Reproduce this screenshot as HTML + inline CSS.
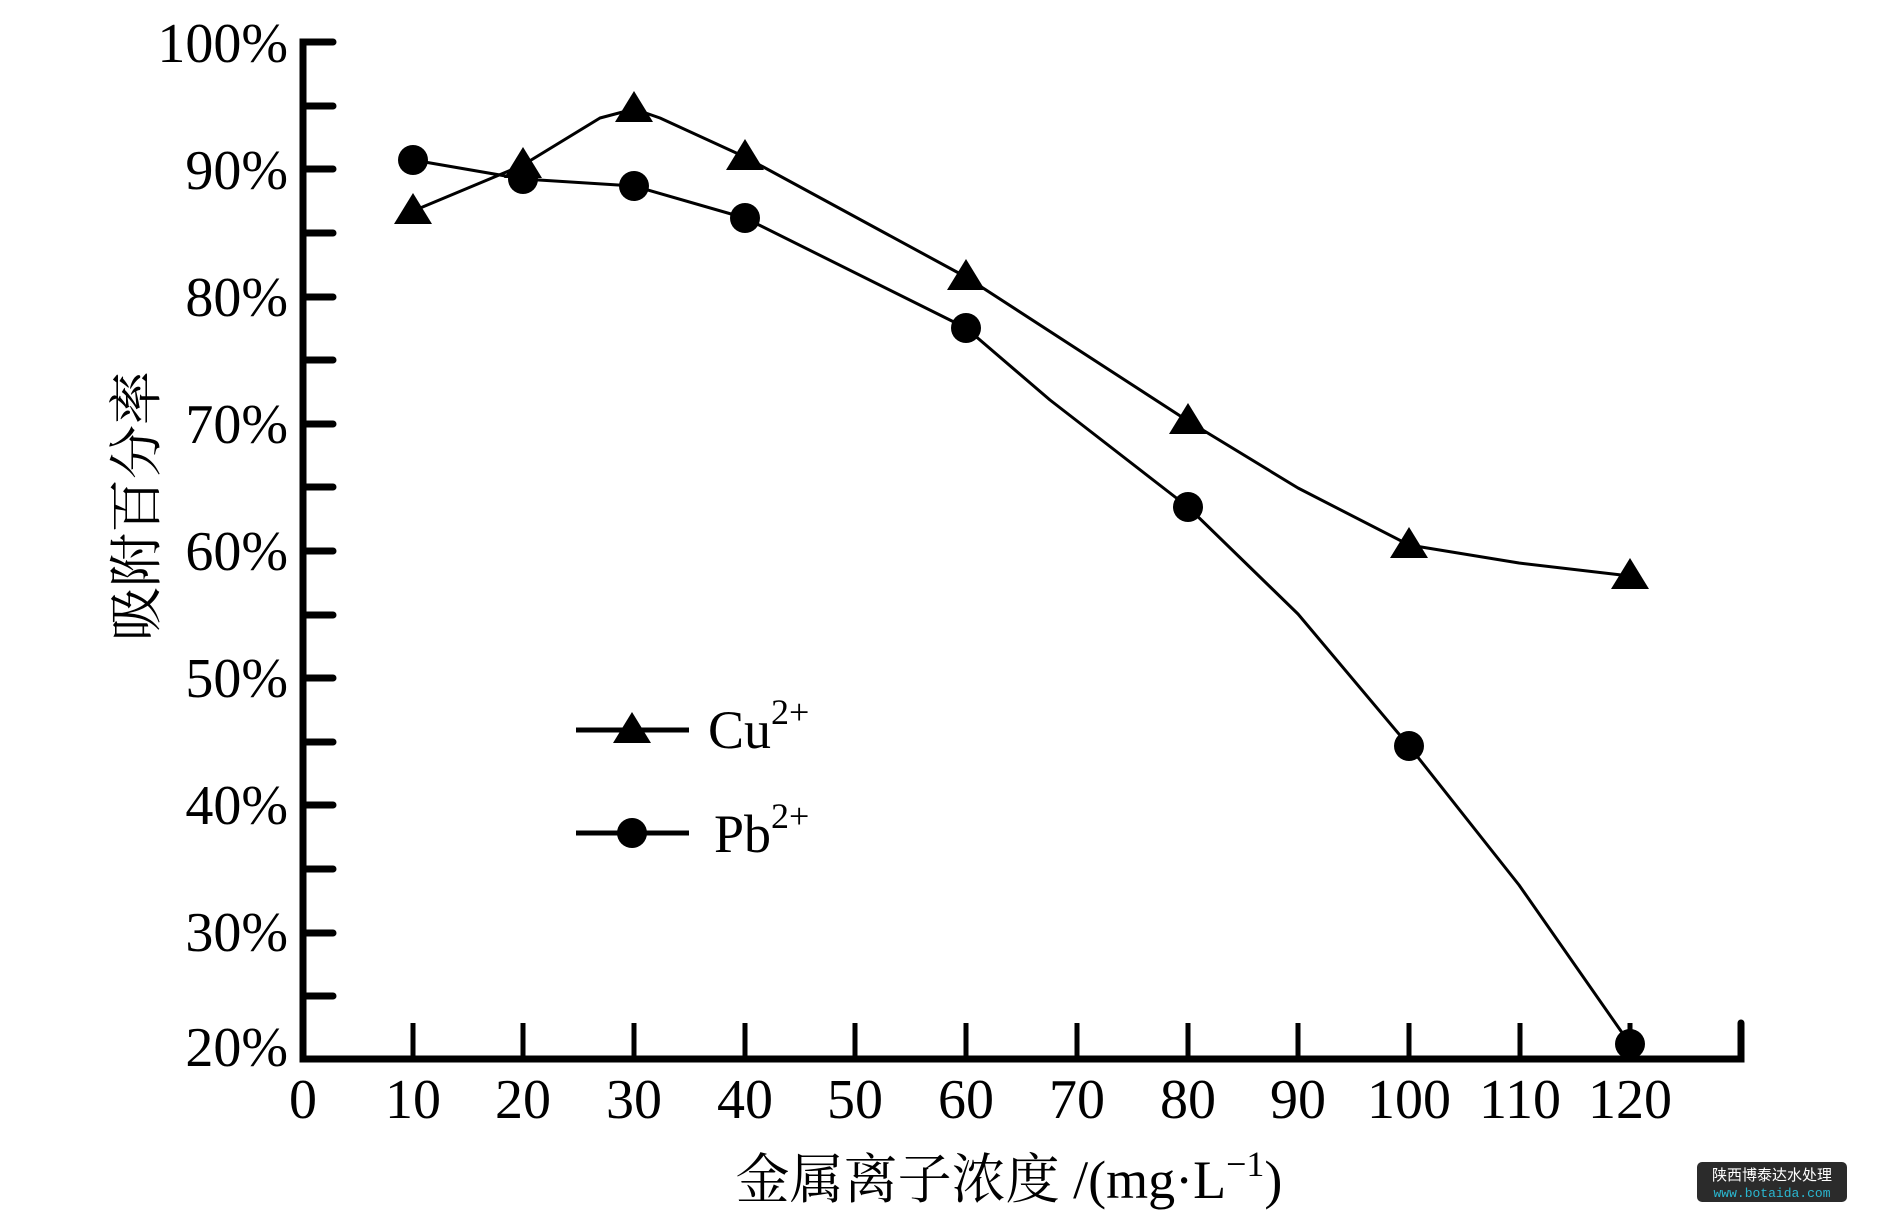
<!DOCTYPE html>
<html><head><meta charset="utf-8"><style>
html,body{margin:0;padding:0;background:#fff;}
svg{display:block;}
</style></head><body>
<svg width="1887" height="1227" viewBox="0 0 1887 1227" xmlns="http://www.w3.org/2000/svg">
<rect width="1887" height="1227" fill="#fff"/>
<g stroke="#000" stroke-width="7" fill="none" stroke-linecap="round">
<polyline points="333,42 303,42 303,1059 1741,1059 1741,1023"/>
<line x1="303" y1="106" x2="333" y2="106"/>
<line x1="303" y1="169" x2="333" y2="169"/>
<line x1="303" y1="233" x2="333" y2="233"/>
<line x1="303" y1="297" x2="333" y2="297"/>
<line x1="303" y1="360" x2="333" y2="360"/>
<line x1="303" y1="424" x2="333" y2="424"/>
<line x1="303" y1="487" x2="333" y2="487"/>
<line x1="303" y1="551" x2="333" y2="551"/>
<line x1="303" y1="615" x2="333" y2="615"/>
<line x1="303" y1="678" x2="333" y2="678"/>
<line x1="303" y1="742" x2="333" y2="742"/>
<line x1="303" y1="805" x2="333" y2="805"/>
<line x1="303" y1="869" x2="333" y2="869"/>
<line x1="303" y1="933" x2="333" y2="933"/>
<line x1="303" y1="996" x2="333" y2="996"/>
</g>
<g stroke="#000" stroke-width="5" fill="none">
<line x1="413" y1="1059" x2="413" y2="1023"/>
<line x1="523" y1="1059" x2="523" y2="1023"/>
<line x1="634" y1="1059" x2="634" y2="1023"/>
<line x1="745" y1="1059" x2="745" y2="1023"/>
<line x1="855" y1="1059" x2="855" y2="1023"/>
<line x1="966" y1="1059" x2="966" y2="1023"/>
<line x1="1077" y1="1059" x2="1077" y2="1023"/>
<line x1="1188" y1="1059" x2="1188" y2="1023"/>
<line x1="1298" y1="1059" x2="1298" y2="1023"/>
<line x1="1409" y1="1059" x2="1409" y2="1023"/>
<line x1="1520" y1="1059" x2="1520" y2="1023"/>
<line x1="1630" y1="1059" x2="1630" y2="1023"/>
</g>
<g font-family="Liberation Serif, serif" font-size="56" fill="#000" text-anchor="end">
<text x="288" y="62">100%</text>
<text x="288" y="189">90%</text>
<text x="288" y="316">80%</text>
<text x="288" y="443">70%</text>
<text x="288" y="570">60%</text>
<text x="288" y="697">50%</text>
<text x="288" y="824">40%</text>
<text x="288" y="951">30%</text>
<text x="288" y="1066">20%</text>
</g>
<g font-family="Liberation Serif, serif" font-size="56" fill="#000" text-anchor="middle">
<text x="303" y="1118">0</text>
<text x="413" y="1118">10</text>
<text x="523" y="1118">20</text>
<text x="634" y="1118">30</text>
<text x="745" y="1118">40</text>
<text x="855" y="1118">50</text>
<text x="966" y="1118">60</text>
<text x="1077" y="1118">70</text>
<text x="1188" y="1118">80</text>
<text x="1298" y="1118">90</text>
<text x="1409" y="1118">100</text>
<text x="1520" y="1118">110</text>
<text x="1630" y="1118">120</text>
</g>
<text x="1009" y="1198" font-family="Liberation Serif, 'Noto Serif CJK SC', serif" font-size="54" text-anchor="middle">金属离子浓度 /(mg·L<tspan font-size="36" dy="-22">−1</tspan><tspan dy="22">)</tspan></text>
<text transform="translate(155,506) rotate(-90)" font-family="'Noto Serif CJK SC', serif" font-size="54" text-anchor="middle">吸附百分率</text>
<g stroke="#000" stroke-width="3" fill="none" stroke-linejoin="round">
<polyline points="413,211 523,165 600,118 634,109 660,118 745,157 966,277 1188,421 1298,488 1409,545 1519,563 1630,576"/>
<polyline points="413,160 523,179 634,186 745,218 966,328 1050,400 1188,507 1298,614 1409,746 1519,885 1630,1044"/>
</g>
<g fill="#000">
<path d="M413,193 L432,224 L394,224 Z"/>
<path d="M523,147 L542,178 L504,178 Z"/>
<path d="M634,91 L653,122 L615,122 Z"/>
<path d="M745,139 L764,170 L726,170 Z"/>
<path d="M966,259 L985,290 L947,290 Z"/>
<path d="M1188,403 L1207,434 L1169,434 Z"/>
<path d="M1409,527 L1428,558 L1390,558 Z"/>
<path d="M1630,558 L1649,589 L1611,589 Z"/>
<circle cx="413" cy="160" r="15"/>
<circle cx="523" cy="179" r="15"/>
<circle cx="634" cy="186" r="15"/>
<circle cx="745" cy="218" r="15"/>
<circle cx="966" cy="328" r="15"/>
<circle cx="1188" cy="507" r="15"/>
<circle cx="1409" cy="746" r="15"/>
<circle cx="1630" cy="1044" r="15"/>
</g>
<g stroke="#000" stroke-width="5">
<line x1="576" y1="730" x2="689" y2="730"/>
<line x1="576" y1="833" x2="689" y2="833"/>
</g>
<path d="M632,712 L651,743 L613,743 Z" fill="#000"/>
<circle cx="632" cy="833" r="15" fill="#000"/>
<text x="708" y="748" font-family="Liberation Serif, serif" font-size="54">Cu<tspan font-size="36" dy="-24">2+</tspan></text>
<text x="714" y="852" font-family="Liberation Serif, serif" font-size="54">Pb<tspan font-size="36" dy="-24">2+</tspan></text>
<rect x="1697" y="1162" width="150" height="40" rx="5" fill="#2b2b2b"/>
<text x="1772" y="1180" font-family="'Noto Sans CJK SC', sans-serif" font-size="15" fill="#fff" text-anchor="middle">陕西博泰达水处理</text>
<text x="1772" y="1197" font-family="'Liberation Mono', monospace" font-size="13" fill="#2ab7d0" text-anchor="middle">www.botaida.com</text>
</svg>
</body></html>
